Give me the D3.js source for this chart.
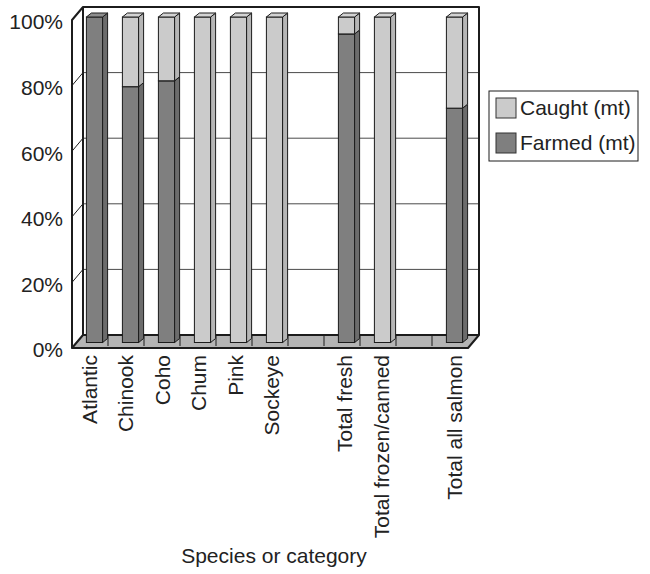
<!DOCTYPE html>
<html>
<head>
<meta charset="utf-8">
<script src="https://cdn.jsdelivr.net/npm/d3@7"></script>
<style>
  html, body { margin: 0; padding: 0; background: #fff; }
  svg { display: block; font-family: "Liberation Sans", Arial, Helvetica, sans-serif; }
</style>
</head>
<body>
<svg id="chart" width="650" height="574"></svg>
<script>
// ---- data ----
const categories = ["Atlantic", "Chinook", "Coho", "Chum", "Pink", "Sockeye", "", "Total fresh", "Total frozen/canned", "", "Total all salmon"];
const farmedPct = [100, 78.6, 80.4, 0, 0, 0, null, 94.8, 0, null, 72];
const caughtPct = [0, 21.4, 19.6, 100, 100, 100, null, 5.2, 100, null, 28];
const seriesNames = ["Caught (mt)", "Farmed (mt)"];
const yTicks = [0, 20, 40, 60, 80, 100];
const tickLabels = ["0%", "20%", "40%", "60%", "80%", "100%"];
const xTitle = "Species or category";

// ---- layout ----
const svg = d3.select("#chart");
const FONT = 21;
const front = { x0: 72, x1: 468, y0: 348, y1: 20 };
const depth = { dx: 11, dy: -13 };
const barDepthPos = { dx: 4.5, dy: -5.5 };   // offset of bar front face
const barSide = { dx: 5, dy: -4 };            // bar thickness
const colors = {
  farmed: { front: "#7f7f7f", side: "#6c6c6c", top: "#8e8e8e" },
  caught: { front: "#cbcbcb", side: "#b6b6b6", top: "#d4d4d4" },
  floor: "#b4b4b4",
  line: "#1c1c1c",
  grid: "#4a4a4a"
};

const idx = d3.range(categories.length);
const x = d3.scaleBand().domain(idx).range([front.x0, front.x1]).paddingInner(0.55).paddingOuter(0.275);
const xSlot = d3.scaleBand().domain(idx).range([front.x0, front.x1]);
const xLabel = d3.scaleBand().domain(idx).range([71, 473]);
const yFront = d3.scaleLinear().domain([0, 100]).range([front.y0, front.y1]);
const yBack = d3.scaleLinear().domain([0, 100]).range([front.y0 + depth.dy, front.y1 + depth.dy]);
const yBar = d3.scaleLinear().domain([0, 100]).range([front.y0 + barDepthPos.dy, 17]);

const poly = pts => "M" + pts.map(p => p.join(",")).join("L") + "Z";

// back wall
const bx0 = front.x0 + depth.dx, bx1 = front.x1 + depth.dx;
svg.append("rect").attr("x", bx0).attr("y", yBack(100)).attr("width", bx1 - bx0).attr("height", yBack(0) - yBack(100)).attr("fill", "#fff");

// gridlines on back wall + left wall
const gridVals = yTicks.filter(v => v > 0 && v < 100);
svg.append("g").selectAll("line").data(gridVals).join("line")
  .attr("x1", bx0).attr("x2", bx1)
  .attr("y1", d => yBack(d)).attr("y2", d => yBack(d))
  .attr("stroke", colors.grid).attr("stroke-width", 1);
svg.append("g").selectAll("line").data(gridVals).join("line")
  .attr("x1", front.x0).attr("x2", bx0)
  .attr("y1", d => yFront(d)).attr("y2", d => yBack(d))
  .attr("stroke", colors.line).attr("stroke-width", 1);

// floor
svg.append("path")
  .attr("d", poly([[front.x0, front.y0], [front.x1, front.y0], [bx1, yBack(0)], [bx0, yBack(0)]]))
  .attr("fill", colors.floor).attr("stroke", colors.line).attr("stroke-width", 2).attr("stroke-linejoin", "round");
svg.append("g").selectAll("line").data(idx.slice(1)).join("line")
  .attr("x1", d => xSlot(d)).attr("x2", d => xSlot(d))
  .attr("y1", yBack(0)).attr("y2", front.y0 - 2)
  .attr("stroke", colors.line).attr("stroke-width", 1);

// bars
function box(g, i, v0, v1, c) {
  const xl = x(i) + barDepthPos.dx, xr = xl + x.bandwidth();
  const yb = yBar(v0), yt = yBar(v1);
  g.append("rect").attr("x", xl).attr("y", yt).attr("width", xr - xl).attr("height", yb - yt)
    .attr("fill", c.front).attr("stroke", colors.line).attr("stroke-width", 1);
  g.append("path").attr("d", poly([[xr, yb], [xr + barSide.dx, yb + barSide.dy], [xr + barSide.dx, yt + barSide.dy], [xr, yt]]))
    .attr("fill", c.side).attr("stroke", colors.line).attr("stroke-width", 1).attr("stroke-linejoin", "round");
  g.append("path").attr("d", poly([[xl, yt], [xr, yt], [xr + barSide.dx, yt + barSide.dy], [xl + barSide.dx, yt + barSide.dy]]))
    .attr("fill", c.top).attr("stroke", colors.line).attr("stroke-width", 1).attr("stroke-linejoin", "round");
}
const bars = svg.append("g");
idx.forEach(i => {
  const f = farmedPct[i], c = caughtPct[i];
  if (f == null) return;
  if (f > 0) box(bars, i, 0, f, colors.farmed);
  if (c > 0) box(bars, i, f, f + c, colors.caught);
});

// frame lines
const frame = svg.append("g").attr("fill", "none").attr("stroke", colors.line).attr("stroke-width", 2).attr("stroke-linejoin", "round");
frame.append("path").attr("d", `M${front.x0},${front.y0}L${front.x0},${yFront(100)}L${bx0},${yBack(100)}L${bx1},${yBack(100)}L${bx1},${yBack(0)}`);
frame.append("line").attr("x1", bx0).attr("x2", bx0).attr("y1", yBack(100)).attr("y2", yBack(0));

// y tick labels
svg.append("g").selectAll("text").data(yTicks).join("text")
  .attr("x", 63).attr("y", d => yFront(d) + 2)
  .attr("dy", "0.35em").attr("text-anchor", "end")
  .attr("font-size", FONT).attr("fill", "#222")
  .text((d, i) => tickLabels[i]);

// x labels
svg.append("g").selectAll("text").data(idx.filter(i => categories[i] !== "")).join("text")
  .attr("transform", i => `translate(${xLabel(i) + xLabel.bandwidth() / 2},355) rotate(-90)`)
  .attr("dy", "0.35em").attr("text-anchor", "end")
  .attr("font-size", FONT).attr("fill", "#222")
  .text(i => categories[i]);

// x title
svg.append("text").attr("x", 274).attr("y", 563).attr("text-anchor", "middle")
  .attr("font-size", FONT).attr("fill", "#222").text(xTitle);

// legend
const lg = svg.append("g");
lg.append("rect").attr("x", 489).attr("y", 91).attr("width", 149).attr("height", 70)
  .attr("fill", "#fff").attr("stroke", colors.line).attr("stroke-width", 1);
const legendColors = [colors.caught.front, colors.farmed.front];
const ly = d3.scalePoint().domain(seriesNames).range([98, 133]);
seriesNames.forEach((s, i) => {
  lg.append("rect").attr("x", 496).attr("y", ly(s)).attr("width", 20).attr("height", 20)
    .attr("fill", legendColors[i]).attr("stroke", "#333").attr("stroke-width", 1);
  lg.append("text").attr("x", 520).attr("y", ly(s) + 17).attr("font-size", FONT).attr("fill", "#222").text(s);
});
</script>
</body>
</html>
